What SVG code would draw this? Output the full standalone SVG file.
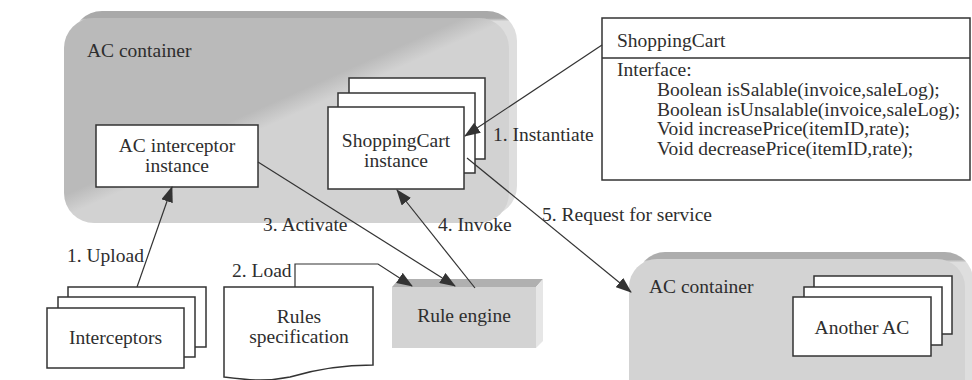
<svg xmlns="http://www.w3.org/2000/svg" width="972" height="380" viewBox="0 0 972 380">
<style>
text{font-family:"Liberation Serif","Times New Roman",serif;font-size:19.5px;fill:#2e2e2e}
.mid{text-anchor:middle}
.box{fill:#ffffff;stroke:#333333;stroke-width:1.5}
.conn{fill:none;stroke:#333333;stroke-width:1.2}
.arr{marker-end:url(#ah)}
</style>
<defs>
<marker id="ah" markerUnits="userSpaceOnUse" markerWidth="16" markerHeight="12" refX="15" refY="6" orient="auto">
<path d="M0,0 L16,6 L0,12 z" fill="#333333"/>
</marker>
<linearGradient id="backG" x1="0" y1="0" x2="0" y2="1">
<stop offset="0" stop-color="#a9a9a9"/>
<stop offset="0.035" stop-color="#a9a9a9"/>
<stop offset="0.05" stop-color="#dedede"/>
<stop offset="1" stop-color="#dedede"/>
</linearGradient>
<linearGradient id="faceG" gradientUnits="userSpaceOnUse" x1="283" y1="98" x2="291" y2="116">
<stop offset="0" stop-color="#bababa"/>
<stop offset="1" stop-color="#d2d2d2"/>
</linearGradient>
<linearGradient id="back2G" x1="0" y1="0" x2="0" y2="1">
<stop offset="0" stop-color="#adadad"/>
<stop offset="0.05" stop-color="#adadad"/>
<stop offset="0.07" stop-color="#dedede"/>
<stop offset="1" stop-color="#dedede"/>
</linearGradient>
</defs>

<g id="ac-container-main">
<rect x="72" y="11" width="445" height="205" rx="30" fill="url(#backG)"/>
<rect x="64" y="18" width="445" height="205" rx="30" fill="url(#faceG)"/>
<text x="87" y="57">AC container</text>
</g>

<g id="ac-container-2">
<rect x="637" y="252" width="336" height="150" rx="28" fill="url(#back2G)"/>
<rect x="629" y="259" width="336" height="150" rx="28" fill="#d3d3d3"/>
<text x="649" y="293">AC container</text>
</g>

<g id="ac-interceptor-instance">
<rect class="box" x="96" y="125" width="162" height="62"/>
<text class="mid" x="177" y="151.5">AC interceptor</text>
<text class="mid" x="177" y="171.5">instance</text>
</g>

<g id="shoppingcart-instance">
<rect class="box" x="349" y="78" width="136" height="81"/>
<rect class="box" x="338" y="93" width="137" height="80"/>
<rect class="box" x="328" y="107" width="136" height="82"/>
<text class="mid" x="396" y="147">ShoppingCart</text>
<text class="mid" x="396" y="167">instance</text>
</g>

<g id="shoppingcart-class">
<rect class="box" x="602" y="18" width="368" height="162"/>
<line x1="602" y1="58" x2="970" y2="58" stroke="#333333" stroke-width="1.5"/>
<text x="617" y="47">ShoppingCart</text>
<text x="617" y="76">Interface:</text>
<text x="657" y="96">Boolean isSalable(invoice,saleLog);</text>
<text x="657" y="115.5">Boolean isUnsalable(invoice,saleLog);</text>
<text x="657" y="135">Void increasePrice(itemID,rate);</text>
<text x="657" y="154.5">Void decreasePrice(itemID,rate);</text>
</g>

<g id="interceptors">
<rect class="box" x="68" y="287" width="138" height="60"/>
<rect class="box" x="58" y="297" width="137" height="60"/>
<rect class="box" x="47" y="308" width="137" height="60"/>
<text class="mid" x="115.5" y="344">Interceptors</text>
</g>

<g id="rules-specification">
<path class="box" d="M224,287 H373 V365 C345,365 320,368 290,377 C265,382 248,380 224,377 Z"/>
<text class="mid" x="299" y="323">Rules</text>
<text class="mid" x="299" y="343">specification</text>
</g>

<g id="rule-engine">
<polygon points="392,287 399,279 543,279 536,287" fill="#b0b0b0"/>
<polygon points="536,287 543,279 543,341 536,348" fill="#e6e6e6"/>
<rect x="392" y="287" width="144" height="61" fill="#d3d3d3"/>
<text class="mid" x="464" y="322">Rule engine</text>
</g>

<g id="another-ac">
<rect class="box" x="814" y="276" width="138" height="58"/>
<rect class="box" x="804" y="287" width="138" height="58"/>
<rect class="box" x="793" y="297" width="138" height="59"/>
<text class="mid" x="862" y="334">Another AC</text>
</g>

<g id="connectors">
<line class="conn arr" x1="602" y1="45" x2="465" y2="136"/>
<line class="conn arr" x1="137" y1="287" x2="172" y2="187"/>
<line class="conn arr" x1="258" y1="162" x2="455" y2="286"/>
<line class="conn arr" x1="475" y1="288" x2="397" y2="190"/>
<line class="conn arr" x1="467" y1="158" x2="631" y2="292"/>
<polyline class="conn arr" points="295,287 295,264 378,264 412,286"/>
<text x="493" y="141">1. Instantiate</text>
<text x="67" y="262">1. Upload</text>
<text x="232" y="277">2. Load</text>
<text x="263" y="231">3. Activate</text>
<text x="438" y="231">4. Invoke</text>
<text x="542" y="221">5. Request for service</text>
</g>
</svg>
